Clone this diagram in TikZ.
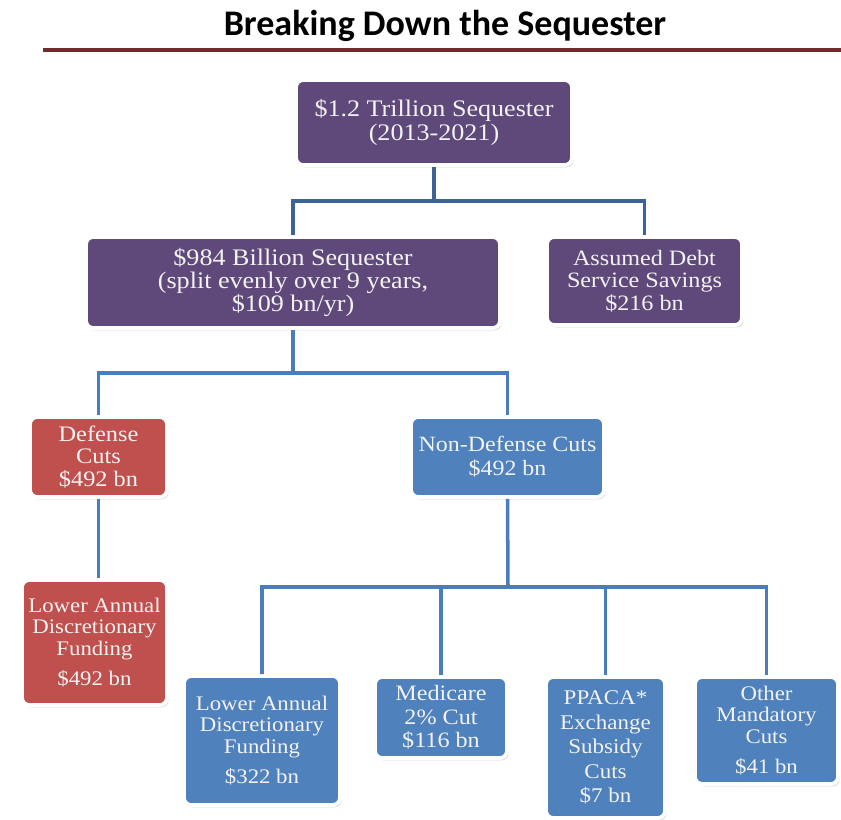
\documentclass[tikz,border=0pt]{standalone}
\usepackage{fontspec}
\setmainfont[FakeStretch=1.1]{Liberation Serif}
\newfontfamily\titlefont{Carlito}
\usetikzlibrary{shadows}
\definecolor{seqpurple}{RGB}{95,73,122}
\definecolor{seqred}{RGB}{192,80,77}
\definecolor{seqblue}{RGB}{79,129,189}
\definecolor{seqline}{RGB}{74,126,187}
\definecolor{seqdark}{RGB}{60,100,150}
\definecolor{seqrule}{RGB}{112,44,44}
\begin{document}
\begin{tikzpicture}[x=0.02cm, y=-0.02cm,
		box/.style={shape=rectangle, rounded corners=4pt, draw=white, line width=2.2pt, text=white!95!black, align=center, inner sep=0pt, font=\fontsize{13.5}{13.3}\selectfont, drop shadow={opacity=0.35, shadow xshift=0.9pt, shadow yshift=-1.3pt}},
		purplebox/.style={box, fill=seqpurple},
		redbox/.style={box, fill=seqred},
		bluebox/.style={box, fill=seqblue},
		conn/.style={draw=seqline, line width=2pt}]
			\useasboundingbox (0,0) rectangle (841,820);
			%Title:
			\node[font=\titlefont\bfseries\fontsize{20.5}{24}\selectfont] (title) at (445,26) {Breaking Down the Sequester};
			\draw[seqrule, line width=2.8pt] (43,50) -- (841,50);
			%Purple level:
			\path
				(434, 122.5) node[purplebox, minimum width=5.52cm, minimum height=1.7cm] (total) {\$1.2 Trillion Sequester\\(2013-2021)}
				(293, 282.5) node[purplebox, minimum width=8.28cm, minimum height=1.82cm] (billion) {\$984 Billion Sequester\\(split evenly over 9 years,\\\$109 bn/yr)}
				(644.5, 281) node[purplebox, minimum width=3.9cm, minimum height=1.76cm, font=\fontsize{12.5}{12.8}\selectfont] (debt) {Assumed Debt\\Service Savings\\\$216 bn};
			%Cuts:
			\path
				(98.5, 457) node[redbox, minimum width=2.74cm, minimum height=1.6cm, font=\fontsize{12.6}{12.8}\selectfont] (defense) {Defense\\Cuts\\\$492 bn}
				(507.5, 457) node[bluebox, minimum width=3.86cm, minimum height=1.6cm, font=\fontsize{12.4}{13.6}\selectfont] (nondefense) {Non-Defense Cuts\\\$492 bn};
			%Bottom boxes:
			\path
				(94.5, 642.5) node[redbox, minimum width=2.9cm, minimum height=2.5cm, font=\fontsize{11.8}{12.2}\selectfont] (deflower) {Lower Annual\\Discretionary\\Funding\\[5pt]\$492 bn}
				(262, 740.5) node[bluebox, minimum width=3.12cm, minimum height=2.58cm, font=\fontsize{11.8}{12.5}\selectfont] (ndlower) {Lower Annual\\Discretionary\\Funding\\[4.5pt]\$322 bn}
				(441, 714) node[bluebox, minimum width=2.64cm, minimum height=1.62cm, font=\fontsize{12.5}{13.3}\selectfont, yshift=-3.5*0.02cm] (medicare) {Medicare\\2\% Cut\\\$116 bn}
				(605.5, 747.5) node[bluebox, minimum width=2.38cm, minimum height=2.82cm, font=\fontsize{11.9}{13.9}\selectfont] (ppaca) {PPACA*\\Exchange\\Subsidy\\Cuts\\\$7 bn}
				(766.5, 730.5) node[bluebox, minimum width=2.86cm, minimum height=2.14cm, font=\fontsize{11.8}{12.2}\selectfont] (other) {Other\\Mandatory\\Cuts\\[5pt]\$41 bn};
			%Connectors:
			\coordinate (split1) at (434, 201);
			\coordinate (split2) at (293, 373);
			\coordinate (split3) at (508, 587);
			\draw[conn, draw=seqdark] (total.south) -- (split1) -| (billion.north);
			\draw[conn, draw=seqdark] (split1) -| (debt.north);
			\draw[conn] (billion.south) -- (split2) -| (defense.north);
			\draw[conn] (split2) -| (nondefense.north);
			\draw[conn] (defense.south) -- (deflower.north -| defense.south);
			\draw[conn] (nondefense.south) -- (split3) -| (ndlower.north);
			\draw[conn] (split3) -| (medicare.north);
			\draw[conn] (split3) -| (ppaca.north);
			\draw[conn] (split3) -| (other.north);
\end{tikzpicture}
\end{document}
